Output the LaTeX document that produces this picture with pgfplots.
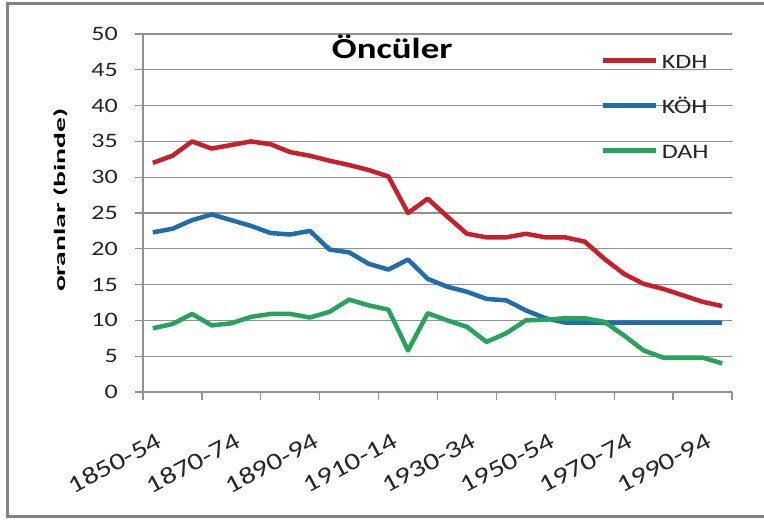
\documentclass[border=0pt]{standalone}
\usepackage{fontspec}
\setmainfont[FakeStretch=1.27]{Carlito}
\newfontfamily\labfont[FakeStretch=1.85]{Carlito}
\usepackage{pgfplots}
\pgfplotsset{compat=1.18}
\definecolor{kdh}{RGB}{200,32,42}
\definecolor{koh}{RGB}{31,109,170}
\definecolor{dah}{RGB}{40,164,90}
\definecolor{gridc}{RGB}{145,145,145}
\definecolor{framec}{RGB}{130,130,130}
\begin{document}
\begin{tikzpicture}[x=1pt,y=1pt]
\useasboundingbox (0,0) rectangle (764,520);
\fill[white] (0,0) rectangle (764,520);
\draw[framec, line width=3pt] (764,516) -- (7,516) -- (7,3) -- (764,3);
\begin{axis}[
  at={(143pt,128pt)}, anchor=south west,
  scale only axis, width=589pt, height=358pt,
  xmin=-0.5, xmax=29.5, ymin=0, ymax=50,
  axis x line=bottom, axis y line=left,
  axis line style={-, gridc, line width=1.3pt},
  tick align=outside, major tick length=8pt,
  tick style={gridc, line width=1.3pt},
  ytick={0,5,...,50},
  ymajorgrids, grid style={gridc, line width=1.3pt},
  xtick={-0.5,2.5,...,29.5}, xticklabels={},
  extra x ticks={0,4,8,12,16,20,24,28},
  extra x tick labels={1850-54,1870-74,1890-94,1910-14,1930-34,1950-54,1970-74,1990-94},
  extra x tick style={major tick length=0pt, xticklabel style={yshift=-47pt, xshift=7pt, rotate=28, anchor=east, inner sep=0pt, font=\fontsize{24}{26}\selectfont}},
  /pgf/number format/assume math mode=true,
  tick label style={font=\fontsize{20.5}{24}\selectfont, text=black!85},
  yticklabel style={anchor=east, inner sep=0pt, xshift=-17pt},
  title={Öncüler},
  title style={at={(axis description cs:0.423,0.916)}, anchor=base, font=\fontsize{29}{32}\selectfont\bfseries},
  ylabel={oranlar (binde)},
  ylabel style={at={(axis description cs:-0.139,0.536)}, anchor=center, font=\labfont\fontsize{16}{18}\selectfont\bfseries},
  legend cell align=left,
  legend style={at={(axis description cs:0.776,0.94)}, anchor=north west, draw=none, fill=none, inner sep=0pt, row sep=32pt, column sep=4pt,
    nodes={inner sep=0pt, font=\fontsize{20.5}{24}\selectfont, text=black!85, text height=13pt, text depth=0pt}},
  legend image code/.code={\draw[#1, line width=4.5pt] (0pt,1.5pt) -- (53pt,1.5pt);},
  every axis plot/.append style={line width=4.5pt, line join=round, no markers},
]
\addplot[kdh] coordinates {
(0,32) (1,33) (2,35) (3,34) (4,34.5) (5,35) (6,34.6) (7,33.5) (8,33) (9,32.3)
(10,31.7) (11,31) (12,30.1) (13,25) (14,27) (15,24.5) (16,22.1) (17,21.6) (18,21.6) (19,22.1)
(20,21.6) (21,21.6) (22,21) (23,18.6) (24,16.5) (25,15.1) (26,14.4) (27,13.5) (28,12.6) (29,12)};
\addlegendentry{KDH}
\addplot[koh] coordinates {
(0,22.3) (1,22.8) (2,24) (3,24.8) (4,24) (5,23.2) (6,22.2) (7,22) (8,22.5) (9,19.9)
(10,19.5) (11,17.9) (12,17.1) (13,18.5) (14,15.8) (15,14.7) (16,14) (17,13) (18,12.8) (19,11.4)
(20,10.3) (21,9.7) (22,9.7) (23,9.7) (24,9.7) (25,9.7) (26,9.7) (27,9.7) (28,9.7) (29,9.7)};
\addlegendentry{KÖH}
\addplot[dah] coordinates {
(0,8.9) (1,9.5) (2,10.9) (3,9.3) (4,9.6) (5,10.5) (6,10.9) (7,10.9) (8,10.4) (9,11.2)
(10,12.9) (11,12.1) (12,11.5) (13,5.8) (14,11) (15,10) (16,9.1) (17,7) (18,8.2) (19,10)
(20,10.1) (21,10.3) (22,10.3) (23,9.8) (24,7.9) (25,5.8) (26,4.8) (27,4.8) (28,4.8) (29,4)};
\addlegendentry{DAH}
\end{axis}
\end{tikzpicture}
\end{document}
